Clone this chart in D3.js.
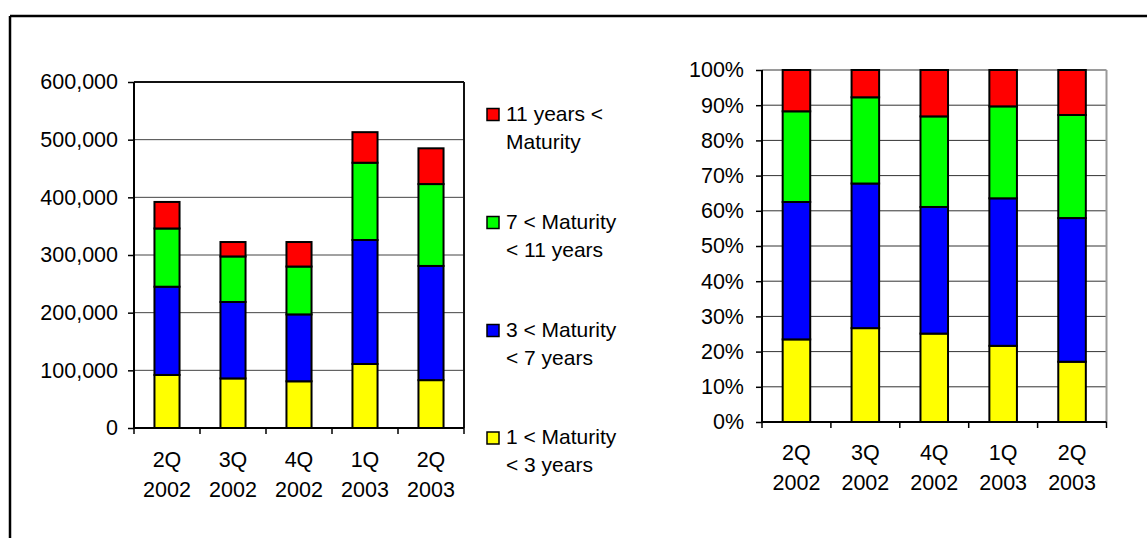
<!DOCTYPE html>
<html>
<head>
<meta charset="utf-8">
<script src="https://cdn.jsdelivr.net/npm/d3@7"></script>
<style>
  html, body { margin: 0; padding: 0; background: #fff; }
  svg text { font-family: "Liberation Sans", Arial, sans-serif; fill: #000; }
</style>
</head>
<body>
<svg id="chart" width="1147" height="538"></svg>
<script>
// Quarterly breakdown by maturity bucket
const quarters = ["2Q|2002", "3Q|2002", "4Q|2002", "1Q|2003", "2Q|2003"];
const seriesKeys = ["y1to3", "y3to7", "y7to11", "y11plus"];
const seriesLabels = [
  ["1 < Maturity", "< 3 years"],
  ["3 < Maturity", "< 7 years"],
  ["7 < Maturity", "< 11 years"],
  ["11 years <", "Maturity"]
];
const seriesColors = ["#FFFF00", "#0000FF", "#00FF00", "#FF0000"];

const y1to3   = [92000,  86000,  81000, 111000,  83000];
const y3to7   = [153000, 132500, 116000, 215000, 198000];
const y7to11  = [101000,  79000,  83000, 134000, 142000];
const y11plus = [ 46000,  25000,  42500,  53000,  62000];

const amountTicks = [0, 100000, 200000, 300000, 400000, 500000, 600000];
const shareTicks = [0, 0.1, 0.2, 0.3, 0.4, 0.5, 0.6, 0.7, 0.8, 0.9, 1.0];

const rows = quarters.map((q, i) => ({
  quarter: q,
  y1to3: y1to3[i], y3to7: y3to7[i], y7to11: y7to11[i], y11plus: y11plus[i]
}));

const svg = d3.select("#chart");
const FONT = 21.5;
const LEGEND_FONT = 21;

// outer frame (top and left edges)
svg.append("line").attr("x1", 10).attr("x2", 1147).attr("y1", 16).attr("y2", 16)
  .attr("stroke", "#000").attr("stroke-width", 2.5);
svg.append("line").attr("x1", 10).attr("x2", 10).attr("y1", 16).attr("y2", 538)
  .attr("stroke", "#000").attr("stroke-width", 2.5);

function drawPanel(opts) {
  const { left, right, top, bottom, stacked, yDomain, ticks, fmt,
          gridColor, frameColor, padInner, labelGap, catY1, catY2 } = opts;
  const g = svg.append("g");

  const x = d3.scaleBand().domain(quarters).range([left, right])
    .paddingInner(padInner).paddingOuter(padInner / 2);
  const y = d3.scaleLinear().domain(yDomain).range([bottom, top]);

  // horizontal gridlines
  g.selectAll(".grid").data(ticks.filter(t => t > yDomain[0] && t < yDomain[1]))
    .join("line")
    .attr("x1", left).attr("x2", right)
    .attr("y1", d => y(d)).attr("y2", d => y(d))
    .attr("stroke", gridColor).attr("stroke-width", 1);

  // plot frame: top and right
  g.append("line").attr("x1", left).attr("x2", right)
    .attr("y1", y(yDomain[1])).attr("y2", y(yDomain[1]))
    .attr("stroke", frameColor).attr("stroke-width", 2);
  g.append("line").attr("x1", right).attr("x2", right)
    .attr("y1", y(yDomain[1])).attr("y2", bottom)
    .attr("stroke", frameColor).attr("stroke-width", 2);

  // stacked bars
  g.selectAll(".layer").data(stacked).join("g")
    .attr("fill", (d, i) => seriesColors[i])
    .selectAll("rect").data(d => d).join("rect")
    .attr("x", d => x(d.data.quarter))
    .attr("width", x.bandwidth())
    .attr("y", d => y(d[1]))
    .attr("height", d => y(d[0]) - y(d[1]))
    .attr("stroke", "#000").attr("stroke-width", 2);

  // y axis
  const yAxis = d3.axisLeft(y).tickValues(ticks).tickFormat(fmt)
    .tickSize(6).tickPadding(labelGap);
  const ya = g.append("g").attr("transform", `translate(${left},0)`).call(yAxis);
  ya.attr("font-size", FONT).attr("font-family", "Liberation Sans, Arial, sans-serif");
  ya.select(".domain").attr("stroke", "#000").attr("stroke-width", 2)
    .attr("d", `M0,${y(yDomain[1])}V${bottom}`);
  ya.selectAll(".tick line").attr("stroke", "#000").attr("stroke-width", 1.5);
  ya.selectAll(".tick text").attr("font-size", FONT).attr("fill", "#000");

  // x axis line and category boundary ticks
  g.append("line").attr("x1", left).attr("x2", right)
    .attr("y1", bottom).attr("y2", bottom)
    .attr("stroke", "#000").attr("stroke-width", 2);
  const bounds = d3.range(quarters.length + 1).map(i => left + i * x.step());
  g.selectAll(".xtick").data(bounds).join("line")
    .attr("x1", d => d).attr("x2", d => d)
    .attr("y1", bottom).attr("y2", bottom + 6)
    .attr("stroke", "#000").attr("stroke-width", 1.5);

  // two-line category labels
  const lab = g.selectAll(".xlab").data(quarters).join("text")
    .attr("text-anchor", "middle").attr("font-size", FONT);
  lab.append("tspan")
    .attr("x", d => x(d) + x.bandwidth() / 2).attr("y", catY1)
    .text(d => d.split("|")[0]);
  lab.append("tspan")
    .attr("x", d => x(d) + x.bandwidth() / 2).attr("y", catY2)
    .text(d => d.split("|")[1]);
}

// left panel: amounts
const stackAmounts = d3.stack().keys(seriesKeys)(rows);
drawPanel({
  left: 134, right: 464, top: 82, bottom: 428,
  stacked: stackAmounts, yDomain: [0, 600000], ticks: amountTicks,
  fmt: d3.format(","), gridColor: "#444", frameColor: "#111",
  padInner: 0.62, labelGap: 10, catY1: 467, catY2: 497
});

// right panel: 100% shares of the same amounts
const stackShares = d3.stack().keys(seriesKeys).offset(d3.stackOffsetExpand)(rows);
drawPanel({
  left: 762, right: 1106.5, top: 70, bottom: 422,
  stacked: stackShares, yDomain: [0, 1], ticks: shareTicks,
  fmt: d3.format(".0%"), gridColor: "#333", frameColor: "#9a9a9a",
  padInner: 0.6, labelGap: 12, catY1: 460, catY2: 490
});

// legend, top item is the last series
const legendTops = [114.5, 222.5, 330.5, 438];
const legend = svg.append("g");
const order = [3, 2, 1, 0];
order.forEach((si, k) => {
  const cy = legendTops[k];
  legend.append("rect")
    .attr("x", 487).attr("y", cy - 6).attr("width", 12).attr("height", 12)
    .attr("fill", seriesColors[si]).attr("stroke", "#000").attr("stroke-width", 1.5);
  const t = legend.append("text").attr("font-size", LEGEND_FONT);
  t.append("tspan").attr("x", 506).attr("y", cy + 6).text(seriesLabels[si][0]);
  t.append("tspan").attr("x", 506).attr("y", cy + 34).text(seriesLabels[si][1]);
});
</script>
</body>
</html>
